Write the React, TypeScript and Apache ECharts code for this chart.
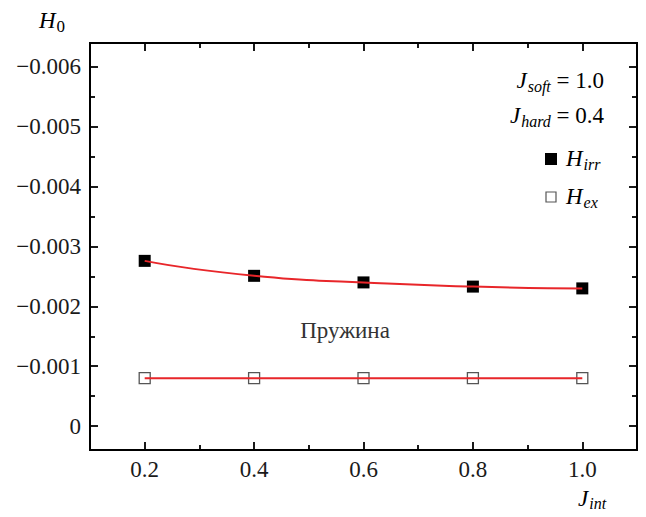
import React, { useEffect, useRef } from "react";
import * as echarts from "echarts";

const jInt = [0.2, 0.4, 0.6, 0.8, 1.0];
const hIrr = [-0.00276, -0.00251, -0.0024, -0.00233, -0.0023];
const hEx = [-0.0008, -0.0008, -0.0008, -0.0008, -0.0008];
const xMajor = [0.2, 0.4, 0.6, 0.8, 1.0];
const xMinor = [0.3, 0.5, 0.7, 0.9];
const yMajor = [0, -0.001, -0.002, -0.003, -0.004, -0.005, -0.006];
const yMinor = [-0.0005, -0.0015, -0.0025, -0.0035, -0.0045, -0.0055];

const FONT = "Liberation Serif";
const TXT = "#1a1a1a";

const xAxisDef = (pos: string, ticks: number[], len: number, labels: boolean) => ({
  type: "value",
  position: pos,
  min: 0.1,
  max: 1.1,
  axisLine: { show: true, onZero: false, lineStyle: { color: "#000", width: 2 } },
  axisTick: { show: true, inside: true, length: len, customValues: ticks, lineStyle: { color: "#000", width: 1.8 } },
  axisLabel: labels
    ? { show: true, customValues: ticks, formatter: (v: number) => v.toFixed(1), fontSize: 23, fontFamily: FONT, color: TXT, margin: 8 }
    : { show: false },
  splitLine: { show: false },
});

const yAxisDef = (pos: string, ticks: number[], len: number, labels: boolean) => ({
  type: "value",
  position: pos,
  inverse: true,
  min: -0.0064,
  max: 0.0004,
  axisLine: { show: true, onZero: false, lineStyle: { color: "#000", width: 2 } },
  axisTick: { show: true, inside: true, length: len, customValues: ticks, lineStyle: { color: "#000", width: 1.8 } },
  axisLabel: labels
    ? {
        show: true,
        customValues: ticks,
        formatter: (v: number) => (Math.abs(v) < 1e-12 ? "0" : "\u2212" + Math.abs(v).toFixed(3)),
        fontSize: 23,
        fontFamily: FONT,
        color: TXT,
        margin: 9,
      }
    : { show: false },
  splitLine: { show: false },
});

const mainTok = { fontFamily: FONT, fontSize: 23, color: TXT };
const itTok = { fontFamily: FONT, fontSize: 23, fontStyle: "italic", color: TXT };
const subTok = { fontFamily: FONT, fontSize: 16, fontStyle: "italic", color: TXT, padding: [12, 0, 0, 1] };
const subTokLow = { fontFamily: FONT, fontSize: 16, fontStyle: "italic", color: TXT, padding: [10, 0, 0, 1] };
const subNum = { fontFamily: FONT, fontSize: 17, color: TXT, padding: [12, 0, 0, 1] };
const richSet = { m: mainTok, i: itTok, s: subTok, t: subTokLow, n: subNum };

export default function App() {
  const ref = useRef<HTMLDivElement>(null);
  useEffect(() => {
    if (!ref.current) return;
    const chart = echarts.init(ref.current, null, { renderer: "svg" });
    chart.setOption({
      animation: false,
      backgroundColor: "#fff",
      textStyle: { fontFamily: FONT },
      grid: { left: 90, right: 9, top: 43, bottom: 67, containLabel: false, outerBoundsMode: "none" },
      xAxis: [
        xAxisDef("bottom", xMajor, 8, true),
        xAxisDef("bottom", xMinor, 5, false),
        xAxisDef("top", xMajor, 8, false),
        xAxisDef("top", xMinor, 5, false),
      ],
      yAxis: [
        yAxisDef("left", yMajor, 8, true),
        yAxisDef("left", yMinor, 5, false),
        yAxisDef("right", yMajor, 8, false),
        yAxisDef("right", yMinor, 5, false),
      ],
      series: [
        {
          name: "H_irr",
          type: "scatter",
          symbol: "rect",
          symbolSize: 12,
          itemStyle: { color: "#000", opacity: 1 },
          data: jInt.map((x, i) => [x, hIrr[i]]),
          z: 2,
        },
        {
          name: "H_ex",
          type: "scatter",
          symbol: "rect",
          symbolSize: 11,
          itemStyle: { color: "#fff", borderColor: "#555", borderWidth: 1.3, opacity: 1 },
          data: jInt.map((x, i) => [x, hEx[i]]),
          z: 2,
        },
        {
          name: "fit_irr",
          type: "line",
          smooth: 0.6,
          showSymbol: false,
          symbol: "none",
          lineStyle: { color: "#e8262a", width: 2 },
          data: jInt.map((x, i) => [x, hIrr[i]]),
          z: 3,
        },
        {
          name: "fit_ex",
          type: "line",
          showSymbol: false,
          symbol: "none",
          lineStyle: { color: "#e8262a", width: 2 },
          data: jInt.map((x, i) => [x, hEx[i]]),
          z: 3,
        },
      ],
      graphic: [
        {
          type: "text",
          x: 39,
          y: 20,
          style: { text: "{i|H}{n|0}", rich: richSet, align: "left", verticalAlign: "middle" },
        },
        {
          type: "text",
          x: 578,
          y: 498,
          style: { text: "{i|J}{t|int}", rich: richSet, align: "left", verticalAlign: "middle" },
        },
        {
          type: "text",
          x: 604,
          y: 80,
          style: { text: "{i|J}{s|soft}{m| = 1.0}", rich: richSet, align: "right", verticalAlign: "middle" },
        },
        {
          type: "text",
          x: 604,
          y: 115,
          style: { text: "{i|J}{s|hard}{m| = 0.4}", rich: richSet, align: "right", verticalAlign: "middle" },
        },
        {
          type: "rect",
          shape: { x: 545, y: 153, width: 12, height: 12 },
          style: { fill: "#000" },
        },
        {
          type: "text",
          x: 566,
          y: 158,
          style: { text: "{i|H}{s|irr}", rich: richSet, align: "left", verticalAlign: "middle" },
        },
        {
          type: "rect",
          shape: { x: 546, y: 192, width: 10, height: 10 },
          style: { fill: "#fff", stroke: "#555", lineWidth: 1.2 },
        },
        {
          type: "text",
          x: 566,
          y: 196,
          style: { text: "{i|H}{s|ex}", rich: richSet, align: "left", verticalAlign: "middle" },
        },
        {
          type: "text",
          x: 345,
          y: 330,
          style: { text: "Пружина", fontFamily: FONT, fontSize: 23, fill: "#333", align: "center", verticalAlign: "middle" },
        },
      ],
    });
    return () => chart.dispose();
  }, []);
  return <div ref={ref} style={{ position: "fixed", left: 0, top: 0, width: 646, height: 517 }} />;
}
